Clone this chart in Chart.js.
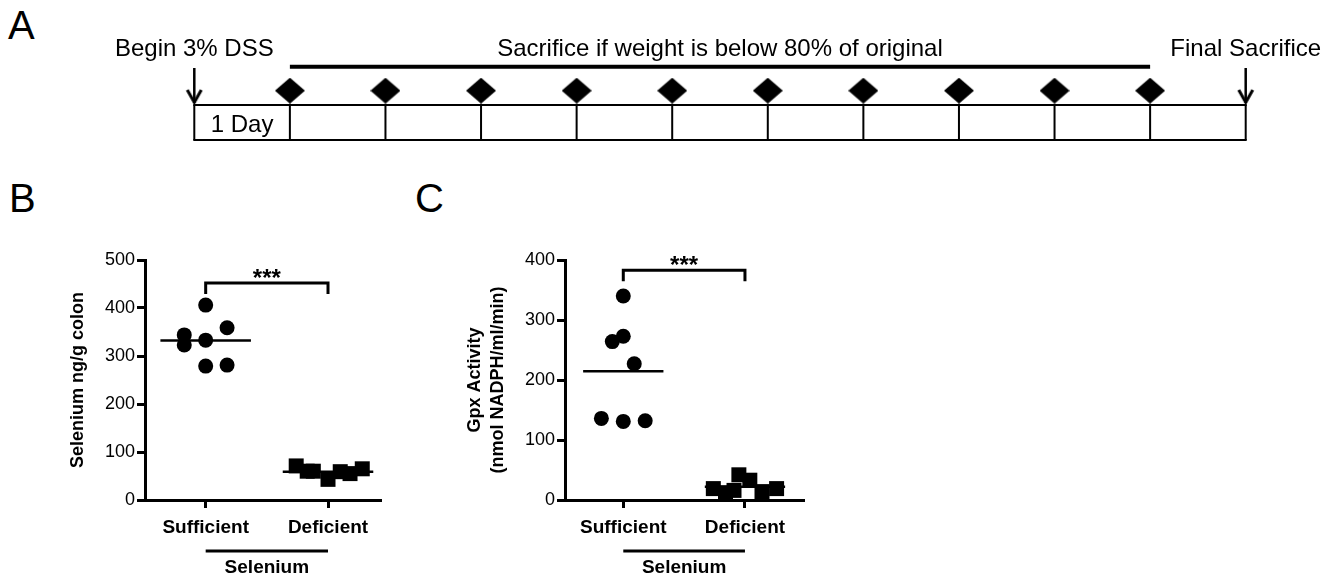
<!DOCTYPE html>
<html><head><meta charset="utf-8">
<script src="https://cdn.jsdelivr.net/npm/chart.js@4.4.1/dist/chart.umd.min.js"></script>
<style>
html,body{margin:0;padding:0;background:#fff;}
#wrap{position:relative;width:1329px;height:580px;overflow:hidden;font-family:'Liberation Sans',Arial,sans-serif;}
canvas{position:absolute;}
.plabel{position:absolute;font-size:40px;line-height:1;color:#000;}
</style></head><body>
<div id="wrap">
<div class="plabel" style="left:8px;top:5px">A</div>
<div class="plabel" style="left:9px;top:178px">B</div>
<div class="plabel" style="left:415px;top:178px">C</div>
<canvas id="cA" width="1329" height="160" style="left:0;top:0"></canvas>
<canvas id="cB" width="400" height="340" style="left:0;top:240px"></canvas>
<canvas id="cC" width="429" height="340" style="left:400px;top:240px"></canvas>
</div>
<script>
// ---------- Panel A: timeline ----------
const days = [0,1,2,3,4,5,6,7,8,9,10,11];
const checkDays = [1,2,3,4,5,6,7,8,9,10];
const sacrificeWindow = [1, 10];
const arrowDays = [0, 11];
const eventLabels = ['Begin 3% DSS', 'Sacrifice if weight is below 80% of original', 'Final Sacrifice'];
const eventDays = [0, 5.5, 11];
const dayLabel = '1 Day';

// ---------- Panel B: colon selenium ----------
const groups = ['Sufficient', 'Deficient'];
const groupTitle = 'Selenium';
const seSufficient = [406, 359, 344, 323, 333, 279, 281];
const seSufficientJitter = [0, 0.175, -0.175, -0.175, 0, 0, 0.175];
const seDeficient = [71, 60, 60, 43, 59, 55, 65];
const seDeficientJitter = [-0.26, -0.17, -0.12, 0, 0.1, 0.18, 0.28];
const seTicks = [0, 100, 200, 300, 400, 500];
const seSig = {text: '***', level: 452};

// ---------- Panel C: Gpx activity ----------
const gpxSufficient = [340, 273, 264, 227, 136, 131, 132];
const gpxSufficientJitter = [0, 0, -0.09, 0.09, -0.18, 0, 0.18];
const gpxDeficient = [19, 12, 16, 42, 33, 14, 19];
const gpxDeficientJitter = [-0.26, -0.16, -0.09, -0.05, 0.04, 0.14, 0.26];
const gpxTicks = [0, 100, 200, 300, 400];
const gpxSig = {text: '***', level: 383};

const FONT = "'Liberation Sans', Arial, sans-serif";
Chart.defaults.font.family = FONT;
Chart.defaults.color = '#000';

// ---------- helpers ----------
function diamondImg(w, h) {
  const c = document.createElement('canvas'); c.width = w; c.height = h;
  const g = c.getContext('2d'); g.fillStyle = '#000';
  g.beginPath(); g.moveTo(w/2, 0); g.lineTo(w, h/2); g.lineTo(w/2, h); g.lineTo(0, h/2); g.closePath(); g.fill();
  return c;
}
function chevronImg() {
  const c = document.createElement('canvas'); c.width = 18; c.height = 30;
  const g = c.getContext('2d'); g.strokeStyle = '#000'; g.lineWidth = 3; g.lineJoin = 'miter'; g.lineCap = 'butt';
  g.beginPath(); g.moveTo(2, 2); g.lineTo(9, 14.5); g.lineTo(16, 2); g.stroke();
  return c;
}
const mean = a => a.reduce((s, v) => s + v, 0) / a.length;
const pts = (vals, jit, cat) => vals.map((v, i) => ({x: cat + jit[i], y: v}));

// ---------- Chart A ----------
const gridPts = [];
days.forEach(d => gridPts.push({x: d, y: 0}, {x: d, y: 1}, {x: d, y: null}));
const shaftPts = [];
arrowDays.forEach(d => shaftPts.push({x: d, y: 2.06}, {x: d, y: 1.06}, {x: d, y: null}));
const first = days[0], last = days[days.length - 1];

const timelineText = {
  id: 'timelineText',
  afterDatasetsDraw(chart) {
    const {ctx, scales: {x, y}} = chart;
    ctx.save();
    ctx.fillStyle = '#000';
    ctx.font = '24px ' + FONT;
    ctx.textAlign = 'center';
    ctx.textBaseline = 'alphabetic';
    eventLabels.forEach((t, i) => ctx.fillText(t, x.getPixelForValue(eventDays[i]), y.getPixelForValue(2.4)));
    ctx.fillText(dayLabel, x.getPixelForValue((days[0] + days[1]) / 2), y.getPixelForValue(0.23));
    ctx.restore();
  }
};

const lineDs = (data, w, extra) => Object.assign({data, showLine: true, borderColor: '#000', borderWidth: w, pointRadius: 0, clip: false, spanGaps: false}, extra || {});

new Chart(document.getElementById('cA'), {
  type: 'scatter',
  data: {datasets: [
    lineDs([{x: first, y: 1}, {x: last, y: 1}], 2, {borderCapStyle: 'square'}),
    lineDs([{x: first, y: 0}, {x: last, y: 0}], 2, {borderCapStyle: 'square'}),
    lineDs(gridPts, 2),
    lineDs([{x: sacrificeWindow[0], y: 2.09}, {x: sacrificeWindow[1], y: 2.09}], 4),
    lineDs(shaftPts, 2.5),
    {data: arrowDays.map(d => ({x: d, y: 1.06})), pointStyle: chevronImg(), pointRadius: 8, clip: false},
    {data: checkDays.map(d => ({x: d, y: 1.41})), pointStyle: diamondImg(30, 26), pointRadius: 14, clip: false}
  ]},
  options: {
    responsive: false, animation: false, devicePixelRatio: 1,
    layout: {autoPadding: false, padding: {left: 194.3, right: 83.3, top: 0, bottom: 20}},
    scales: {
      x: {type: 'linear', display: false, min: first, max: last},
      y: {type: 'linear', display: false, min: 0, max: 4}
    },
    plugins: {legend: {display: false}, tooltip: {enabled: false}},
    events: []
  },
  plugins: [timelineText]
});

// ---------- Charts B and C ----------
function annotPlugin(sig) {
  return {
    id: 'annot',
    afterDraw(chart) {
      const {ctx, chartArea, scales: {x, y}} = chart;
      const x1 = x.getPixelForValue(1), x2 = x.getPixelForValue(2);
      const yl = y.getPixelForValue(sig.level);
      ctx.save();
      ctx.strokeStyle = '#000'; ctx.fillStyle = '#000'; ctx.lineWidth = 3;
      ctx.beginPath(); ctx.moveTo(x1, yl + 11); ctx.lineTo(x1, yl); ctx.lineTo(x2, yl); ctx.lineTo(x2, yl + 11); ctx.stroke();
      ctx.font = 'bold 24px ' + FONT; ctx.textAlign = 'center'; ctx.textBaseline = 'alphabetic';
      ctx.fillText(sig.text, (x1 + x2) / 2, yl + 3);
      const gy = chartArea.bottom + 51;
      ctx.beginPath(); ctx.moveTo(x1, gy); ctx.lineTo(x2, gy); ctx.stroke();
      ctx.font = 'bold 19px ' + FONT;
      ctx.fillText(groupTitle, (x1 + x2) / 2, gy + 22);
      ctx.restore();
    }
  };
}

function dotChart(id, cfg) {
  const mS = mean(cfg.suff), mD = mean(cfg.def);
  return new Chart(document.getElementById(id), {
    type: 'scatter',
    data: {datasets: [
      {data: pts(cfg.suff, cfg.suffJit, 1), pointStyle: 'circle', pointRadius: 7.5, pointBorderWidth: 0, backgroundColor: '#000', borderColor: '#000', clip: false},
      {data: pts(cfg.def, cfg.defJit, 2), pointStyle: 'rect', pointRadius: 10.6, pointBorderWidth: 0, backgroundColor: '#000', borderColor: '#000', clip: false},
      lineDs([{x: 1 - cfg.hw, y: mS}, {x: 1 + cfg.hw, y: mS}], 2.5),
      lineDs([{x: 2 - cfg.hw, y: mD}, {x: 2 + cfg.hw, y: mD}], 2.5)
    ]},
    options: {
      responsive: false, animation: false, devicePixelRatio: 1,
      layout: {autoPadding: false, padding: {left: 0, right: cfg.padRight, top: 20, bottom: 0}},
      scales: {
        x: {
          type: 'linear', position: 'bottom', min: cfg.xmin, max: cfg.xmax, bounds: 'data',
          afterBuildTicks: s => { s.ticks = groups.map((g, i) => ({value: i + 1})); },
          afterFit: s => { s.height = 80; },
          ticks: {callback: v => groups[Math.round(v) - 1], font: {size: 19, weight: 'bold'}, color: '#000', padding: 8, maxRotation: 0, autoSkip: false},
          grid: {drawOnChartArea: false, drawTicks: true, tickLength: 8, lineWidth: 3, tickWidth: 3, color: '#000', tickColor: '#000'},
          border: {display: true, width: 3, color: '#000'}
        },
        y: {
          type: 'linear', position: 'left', min: cfg.ticks[0], max: cfg.ticks[cfg.ticks.length - 1],
          afterBuildTicks: s => { s.ticks = cfg.ticks.map(v => ({value: v})); },
          afterFit: s => { s.width = cfg.yWidth; },
          ticks: {font: {size: 18}, color: '#000', padding: 2},
          grid: {drawOnChartArea: false, drawTicks: true, tickLength: 8, lineWidth: 3, tickWidth: 3, color: '#000', tickColor: '#000'},
          border: {display: true, width: 3, color: '#000'},
          title: {display: true, text: cfg.title, font: {size: 18, weight: 'bold', lineHeight: 1.25}, color: '#000', padding: {top: cfg.titlePad, bottom: 0}}
        }
      },
      plugins: {legend: {display: false}, tooltip: {enabled: false}},
      events: []
    },
    plugins: [annotPlugin(cfg.sig)]
  });
}

dotChart('cB', {
  suff: seSufficient, suffJit: seSufficientJitter, def: seDeficient, defJit: seDeficientJitter,
  ticks: seTicks, sig: seSig, title: 'Selenium ng/g colon',
  xmin: 0.504, xmax: 2.425, padRight: 20, yWidth: 145, titlePad: 67, hw: 0.37
});
dotChart('cC', {
  suff: gpxSufficient, suffJit: gpxSufficientJitter, def: gpxDeficient, defJit: gpxDeficientJitter,
  ticks: gpxTicks, sig: gpxSig, title: ['Gpx Activity', '(nmol NADPH/ml/min)'],
  xmin: 0.521, xmax: 2.477, padRight: 26, yWidth: 165, titlePad: 64, hw: 0.33
});
</script>
</body></html>
